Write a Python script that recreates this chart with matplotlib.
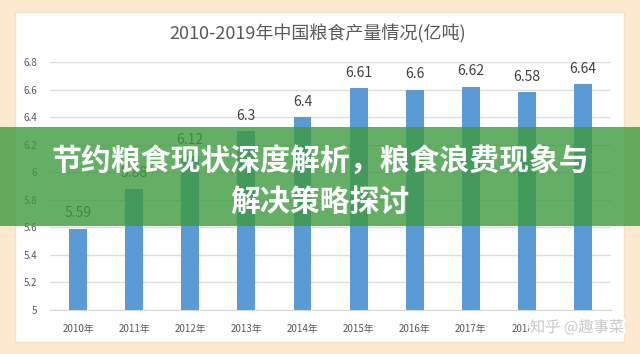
import matplotlib.pyplot as plt
import matplotlib.patheffects as pe
from matplotlib.patches import Rectangle

plt.rcParams['font.family'] = ['Noto Sans CJK SC', 'DejaVu Sans']

years = ['2010年', '2011年', '2012年', '2013年', '2014年',
         '2015年', '2016年', '2017年', '2018年', '2019年']
output = [5.59, 5.88, 6.12, 6.3, 6.4, 6.61, 6.6, 6.62, 6.58, 6.64]
value_labels = ['5.59', '5.88', '6.12', '6.3', '6.4', '6.61', '6.6', '6.62', '6.58', '6.64']
yticks = [5, 5.2, 5.4, 5.6, 5.8, 6, 6.2, 6.4, 6.6, 6.8]
ytick_labels = ['5', '5.2', '5.4', '5.6', '5.8', '6', '6.2', '6.4', '6.6', '6.8']

fig = plt.figure(figsize=(6.4, 3.54), dpi=100)
fig.patch.set_facecolor('#fde9cf')

# white card behind the chart
fig.patches.append(Rectangle((0.0235, 0.034), 0.952, 0.932, transform=fig.transFigure,
                             facecolor='white', edgecolor='#f2e2cc', lw=1, zorder=-1))

ax = fig.add_axes([0.078, 0.1243, 0.877, 0.7006])
ax.set_facecolor('white')
x = list(range(len(years)))
ax.bar(x, output, width=0.32, color='#5b9bd5', zorder=3)
for xi, v, lab in zip(x, output, value_labels):
    ax.annotate(lab, (xi, v), xytext=(0, 6), textcoords='offset points',
                ha='center', va='bottom', fontsize=10, color='#404040')

ax.set_xlim(-0.5, 9.5)
ax.set_ylim(5, 6.8)
ax.set_yticks(yticks)
ax.set_yticklabels(ytick_labels)
ax.set_xticks(x)
ax.set_xticklabels(years)
ax.tick_params(axis='both', length=0, labelsize=7, labelcolor='#595959')
ax.tick_params(axis='x', pad=10)
ax.tick_params(axis='y', pad=9)
ax.grid(axis='y', color='#dedede', lw=1, zorder=0)
for s in ax.spines.values():
    s.set_visible(False)
ax.spines['bottom'].set_visible(True)
ax.spines['bottom'].set_color('#d9d9d9')

fig.text(0.497, 0.905, '2010-2019年中国粮食产量情况(亿吨)', ha='center', va='center',
         fontsize=13, color='#595959')

# green banner with headline
fig.patches.append(Rectangle((0, 0.3616), 1, 0.2794, transform=fig.transFigure,
                             facecolor='#3f9a3f', alpha=0.8, edgecolor='none', zorder=5))
fig.text(0.5, 0.545, '节约粮食现状深度解析，粮食浪费现象与', ha='center', va='center',
         fontsize=21.5, fontweight='bold', color='white', zorder=6)
fig.text(0.5, 0.43, '解决策略探讨', ha='center', va='center',
         fontsize=21.5, fontweight='bold', color='white', zorder=6)

# watermark
fig.text(0.975, 0.075, '知乎 @趣事菜', ha='right', va='center', fontsize=11,
         color='#c9c9c9', zorder=7,
         path_effects=[pe.withStroke(linewidth=3, foreground='white')])

fig.savefig('out.png', dpi=100, facecolor=fig.get_facecolor())
